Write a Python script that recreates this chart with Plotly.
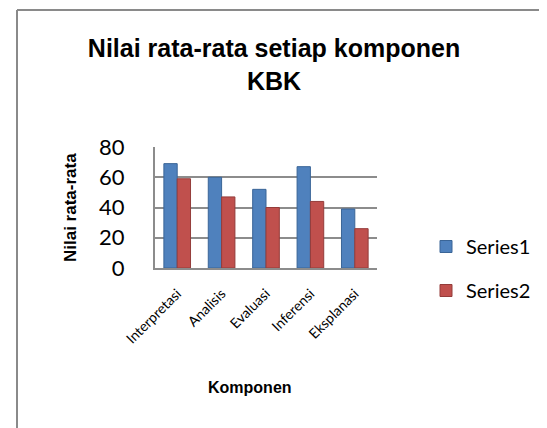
import plotly.graph_objects as go

categories = ["Interpretasi", "Analisis", "Evaluasi", "Inferensi", "Eksplanasi"]
series1 = [69, 60, 52, 67, 39]
series2 = [59, 47, 40, 44, 26]
yticks = [0, 20, 40, 60, 80]

W, H = 547, 428
L, R, T, B = 147, 178, 139, 168
pw, ph = W - L - R, H - T - B

def px_x(x):
    return (x - L) / pw

def px_y(y):
    return (H - B - y) / ph

body_font = "Lato, Open Sans, sans-serif"
bold_font = "Liberation Sans, Arial, sans-serif"
frame = "#8a8a8a"

fig = go.Figure()
fig.add_trace(go.Bar(x=categories, y=series1, name="Series1", legendgroup="a",
                     marker=dict(color="#4F81BD", line=dict(color="#3A6597", width=1))))
fig.add_trace(go.Bar(x=categories, y=series2, name="Series2", legendgroup="b",
                     marker=dict(color="#C0504D", line=dict(color="#943C3A", width=1))))

fig.update_layout(
    width=W, height=H,
    margin=dict(l=L, r=R, t=T, b=B, autoexpand=False),
    paper_bgcolor="white", plot_bgcolor="white",
    barmode="group", bargap=0.4, bargroupgap=0.0,
    showlegend=True,
    legend=dict(x=px_x(418), y=px_y(219), xanchor="left", yanchor="top",
                font=dict(family=body_font, size=20, color="#000"),
                tracegroupgap=15, bgcolor="rgba(0,0,0,0)"),
    title=dict(text="<b>Nilai rata-rata setiap komponen<br>KBK</b>",
               x=px_x(266), xanchor="center", xref="paper",
               y=1 - 49 / H, yanchor="top",
               font=dict(family=bold_font, size=25, color="#000")),
    xaxis=dict(tickangle=-45, tickfont=dict(family=body_font, size=14, color="#000"),
               showline=True, linecolor="#8c8c8c", linewidth=2, ticks="",
               ticklabelstandoff=10),
    yaxis=dict(range=[0, 80], tickvals=yticks, showgrid=True, gridcolor="#8c8c8c",
               gridwidth=2, showline=True, linecolor="#8c8c8c", linewidth=2,
               zeroline=False, ticks="", ticklabelstandoff=24,
               tickfont=dict(family=body_font, size=22, color="#000")),
    annotations=[
        dict(text="<b>Nilai rata-rata</b>", xref="paper", yref="paper",
             x=px_x(62), y=px_y(200), xanchor="center", yanchor="middle",
             textangle=-90, showarrow=False,
             font=dict(family=bold_font, size=17, color="#000")),
        dict(text="<b>Komponen</b>", xref="paper", yref="paper",
             x=px_x(242), y=px_y(379), xanchor="center", yanchor="middle",
             showarrow=False, font=dict(family=bold_font, size=16, color="#000")),
    ],
    shapes=[
        dict(type="line", xref="paper", yref="paper",
             x0=px_x(9), x1=px_x(9), y0=px_y(2), y1=px_y(H + 20),
             line=dict(color=frame, width=2)),
        dict(type="line", xref="paper", yref="paper",
             x0=px_x(9), x1=px_x(W + 20), y0=px_y(2), y1=px_y(2),
             line=dict(color=frame, width=2)),
    ],
)

fig.write_html("out.html")
